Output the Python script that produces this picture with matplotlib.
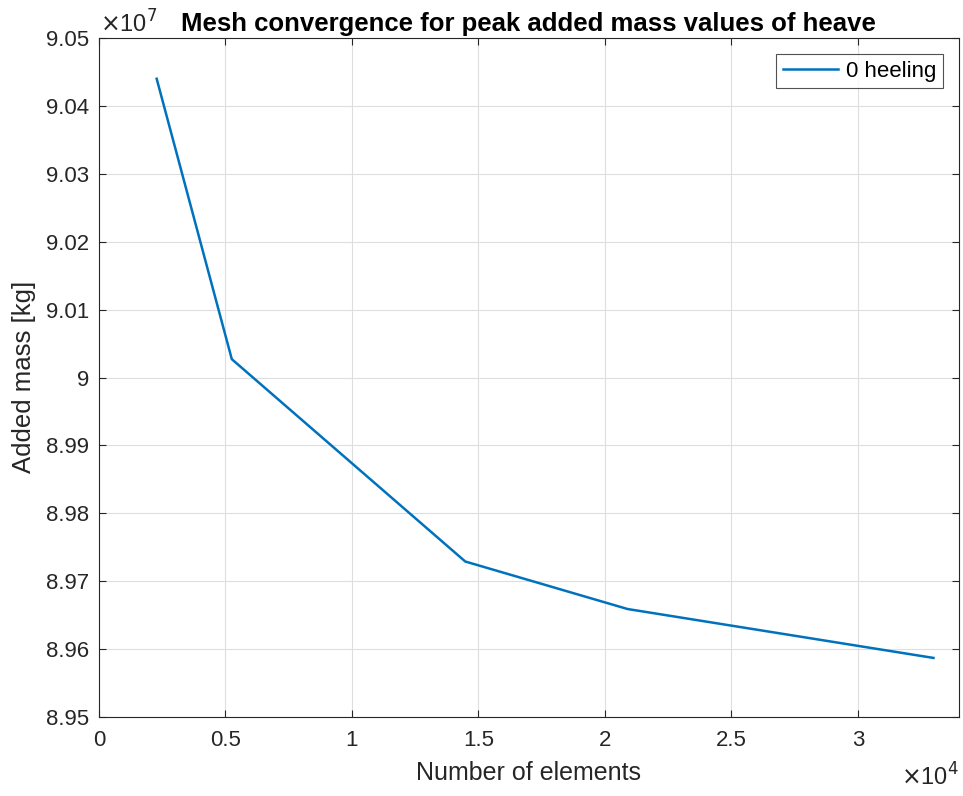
import matplotlib.pyplot as plt
from matplotlib.ticker import FuncFormatter

# peak added mass in heave vs. mesh size
n_elements = [2280, 5250, 14480, 20900, 32990]
added_mass = [9.0440e7, 9.0027e7, 8.9729e7, 8.9659e7, 8.9587e7]
x_ticks = [0, 5000, 10000, 15000, 20000, 25000, 30000]
y_ticks = [8.95e7, 8.96e7, 8.97e7, 8.98e7, 8.99e7, 9.00e7, 9.01e7, 9.02e7, 9.03e7, 9.04e7, 9.05e7]

LINE_COLOR = "#0072BD"
AXIS_COLOR = "#262626"
W, H = 963, 796

plt.rcParams["font.family"] = ["Liberation Sans", "DejaVu Sans"]

fig = plt.figure(figsize=(W / 100, H / 100), dpi=100)
ax = fig.add_axes([99 / W, 1 - 717 / H, 860 / W, 679 / H])

ax.plot(n_elements, added_mass, color=LINE_COLOR, linewidth=1.8, label="0 heeling")

ax.set_xlim(0, 34000)
ax.set_ylim(8.95e7, 9.05e7)
ax.set_xticks(x_ticks)
ax.set_yticks(y_ticks)
ax.xaxis.set_major_formatter(FuncFormatter(lambda v, p: f"{v / 1e4:g}"))
ax.yaxis.set_major_formatter(FuncFormatter(lambda v, p: f"{round(v / 1e7, 2):g}"))

ax.grid(True, color="#dedede", linewidth=0.8)
ax.set_axisbelow(True)
ax.tick_params(direction="in", top=True, right=True, length=5, width=0.8,
               colors=AXIS_COLOR, labelsize=16, labelcolor=AXIS_COLOR)
ax.tick_params(axis="x", pad=9)
ax.tick_params(axis="y", pad=7)
for s in ax.spines.values():
    s.set_color(AXIS_COLOR)
    s.set_linewidth(0.8)

fig.text(528 / W, 1 - 773 / H, "Number of elements", fontsize=18, color=AXIS_COLOR,
         ha="center", va="center")
fig.text(24 / W, 1 - 377 / H, "Added mass [kg]", fontsize=18.5, color=AXIS_COLOR,
         ha="center", va="center", rotation=90)
fig.text(528.5 / W, 1 - 24 / H, "Mesh convergence for peak added mass values of heave",
         fontsize=18.5, fontweight="bold", color="black", ha="center", va="center")

fig.text(100 / W, 1 - 24 / H, r"$\times$10$^{7}$", fontsize=17, color=AXIS_COLOR, va="center", ha="left")
fig.text(959 / W, 1 - 777 / H, r"$\times$10$^{4}$", fontsize=17, color=AXIS_COLOR, va="center", ha="right")

leg = ax.legend(loc="upper right", bbox_to_anchor=(943 / W, 1 - 54 / H),
                bbox_transform=fig.transFigure, borderaxespad=0,
                fontsize=16, frameon=True, fancybox=False,
                handlelength=2.5, handletextpad=0.35, borderpad=0.3)
leg.get_frame().set_edgecolor(AXIS_COLOR)
leg.get_frame().set_linewidth(0.8)

fig.savefig("out.png", dpi=100)
